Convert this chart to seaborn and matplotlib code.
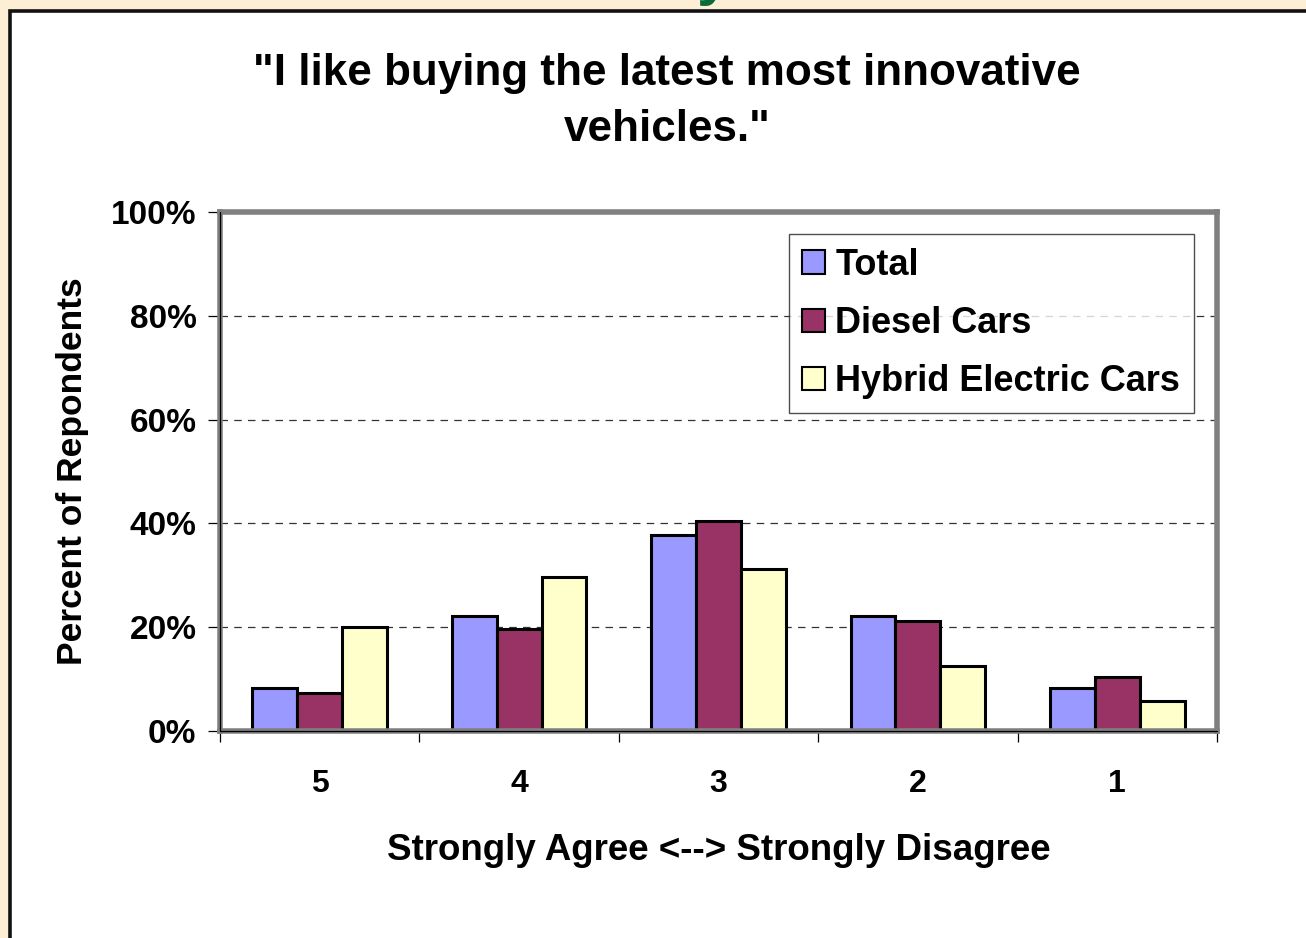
import matplotlib
matplotlib.use("Agg")
import matplotlib.pyplot as plt
from matplotlib.patches import Rectangle
from matplotlib.ticker import FuncFormatter, FixedLocator
import pandas as pd
import seaborn as sns

# Survey responses: share of respondents per agreement level
ratings = ["5", "4", "3", "2", "1"]
groups = ["Total", "Diesel Cars", "Hybrid Electric Cars"]
total = [8.3, 22.2, 37.8, 22.2, 8.3]
diesel = [7.3, 19.7, 40.4, 21.2, 10.5]
hybrid = [20.1, 29.7, 31.3, 12.6, 5.7]
yticks = [0, 20, 40, 60, 80, 100]

colors = ["#9999FF", "#993366", "#FFFFCC"]

rows = []
for g, vals in zip(groups, [total, diesel, hybrid]):
    for r, v in zip(ratings, vals):
        rows.append({"rating": r, "pct": v, "group": g})
df = pd.DataFrame(rows)

sns.set_theme(style="white")
plt.rcParams["font.family"] = ["Liberation Sans", "DejaVu Sans"]
plt.rcParams["font.weight"] = "bold"
plt.rcParams["text.color"] = "black"
plt.rcParams["axes.labelcolor"] = "black"
plt.rcParams["xtick.color"] = "black"
plt.rcParams["ytick.color"] = "black"

W, H = 1306, 938
fig = plt.figure(figsize=(W / 100, H / 100), dpi=100)
fig.patch.set_facecolor("#FCEFD6")

# white slide panel with a black border
panel = Rectangle((10 / W, -0.05), 1.1, 1 - 11.5 / H + 0.05, transform=fig.transFigure,
                  facecolor="white", edgecolor="#111111", linewidth=2.6, zorder=-10)
fig.patches.append(panel)

# descender of the slide heading peeking in at the top
fig.text(714 / W, 1 + 7 / H, "y", color="#0B6B3A", fontsize=44, fontweight="bold",
         ha="center", va="baseline", zorder=-5)

left, right, top, bottom = 220 / W, 1217 / W, 212 / H, 731 / H
ax = fig.add_axes([left, 1 - bottom, right - left, bottom - top])
ax.set_facecolor("white")

sns.barplot(data=df, x="rating", y="pct", hue="group", order=ratings, hue_order=groups,
            palette=colors, edgecolor="black", linewidth=2.2, width=0.675, saturation=1,
            ax=ax, zorder=3)

ax.set_xlim(-0.5, 4.5)
ax.set_ylim(0, 100)
ax.set_yticks(yticks)
ax.yaxis.set_major_formatter(FuncFormatter(lambda v, p: f"{int(v)}%"))
for y in yticks[1:-1]:
    ax.axhline(y, color="#333333", linestyle=(0, (6, 5)), linewidth=0.9, zorder=1)

for s in ax.spines.values():
    s.set_color("#808080")
    s.set_linewidth(4.0)
    s.set_zorder(4)

# thin black axis lines carrying the tick marks
ax.plot([0, 0], [0, 1], transform=ax.transAxes, color="black", lw=0.9, clip_on=False, zorder=5)
ax.plot([0, 1], [0, 0], transform=ax.transAxes, color="black", lw=0.9, clip_on=False, zorder=5)

ax.tick_params(axis="y", which="major", direction="out", length=9, width=0.9, color="black",
               labelsize=24, pad=8, left=True)
ax.xaxis.set_minor_locator(FixedLocator([-0.5, 0.5, 1.5, 2.5, 3.5, 4.5]))
ax.tick_params(axis="x", which="minor", direction="out", length=8, width=0.9, color="black",
               bottom=True)
ax.tick_params(axis="x", which="major", length=0, labelsize=23, pad=27)
for lab in ax.get_xticklabels() + ax.get_yticklabels():
    lab.set_fontweight("bold")

ax.set_xlabel("Strongly Agree <--> Strongly Disagree", fontsize=26.5, fontweight="bold",
              labelpad=25)
ax.set_ylabel("Percent of Repondents", fontsize=25.5, fontweight="bold", labelpad=16)

leg = ax.legend(loc="upper right", bbox_to_anchor=(0.977, 0.958), borderaxespad=0,
                fontsize=26, frameon=True, fancybox=False, handlelength=0.62,
                handleheight=0.62, handletextpad=0.3, labelspacing=0.65,
                borderpad=0.38, title=None)
leg.get_frame().set_edgecolor("#222222")
leg.get_frame().set_linewidth(1.0)
for t in leg.get_texts():
    t.set_fontweight("bold")
    t.set_color("black")
for h in leg.legend_handles:
    h.set_linewidth(1.5)
    h.set_edgecolor("black")

fig.text(667 / W, 1 - 101.5 / H, "\"I like buying the latest most innovative\nvehicles.\"",
         ha="center", va="center", fontsize=31.7, fontweight="bold", linespacing=1.45,
         color="black")

fig.savefig("out.png", dpi=100, facecolor=fig.get_facecolor())
